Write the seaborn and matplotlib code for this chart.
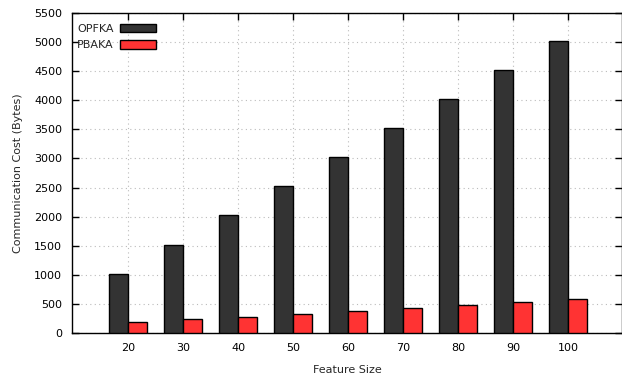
import matplotlib
matplotlib.use("Agg")
import matplotlib.pyplot as plt
import seaborn as sns
import pandas as pd

# Communication cost per feature size for the two schemes
feature_sizes = [20, 30, 40, 50, 60, 70, 80, 90, 100]
opfka_cost = [1020, 1520, 2020, 2520, 3020, 3520, 4020, 4520, 5020]
pbaka_cost = [190, 240, 280, 330, 380, 430, 480, 530, 585]
schemes = ["OPFKA", "PBAKA"]
colors = ["#333333", "#ff3333"]

df = pd.DataFrame({
    "Feature Size": [str(f) for f in feature_sizes] * 2,
    "Cost": opfka_cost + pbaka_cost,
    "Scheme": [schemes[0]] * len(feature_sizes) + [schemes[1]] * len(feature_sizes),
})

sns.set_style("white")
plt.rcParams["font.family"] = ["DejaVu Sans"]

fig = plt.figure(figsize=(6.22, 3.81), dpi=100)
ax = fig.add_axes([72 / 622, 1 - 333 / 381, 550 / 622, 320 / 381])

sns.barplot(data=df, x="Feature Size", y="Cost", hue="Scheme",
            palette=colors, width=0.69, edgecolor="black", linewidth=1.0,
            saturation=1, ax=ax, zorder=3)

ax.set_xlim(-1.02, 8.98)
ax.set_ylim(0, 5500)
ax.set_yticks(range(0, 5501, 500))
ax.set_axisbelow(True)
ax.grid(True, linestyle=(0, (1, 3)), color="#bbbbbb", linewidth=0.8)

for side in ["top", "right", "bottom", "left"]:
    ax.spines[side].set_visible(True)
    ax.spines[side].set_color("black")
    ax.spines[side].set_linewidth(1.0)

ax.tick_params(axis="both", which="both", direction="in", length=5, width=1,
               top=True, right=True, bottom=True, left=True,
               labelsize=8, colors="black", pad=7)

ax.set_xlabel("Feature Size", fontsize=8, labelpad=9)
ax.set_ylabel("Communication Cost (Bytes)", fontsize=8, labelpad=8)

leg = ax.legend(loc="upper left", bbox_to_anchor=(-0.002, 0.984), frameon=False,
                markerfirst=False, fontsize=8, handlelength=3.3,
                handleheight=0.75, handletextpad=0.55, labelspacing=0.55,
                borderaxespad=0.25, borderpad=0.3, title=None)

fig.savefig("out.png", dpi=100)
